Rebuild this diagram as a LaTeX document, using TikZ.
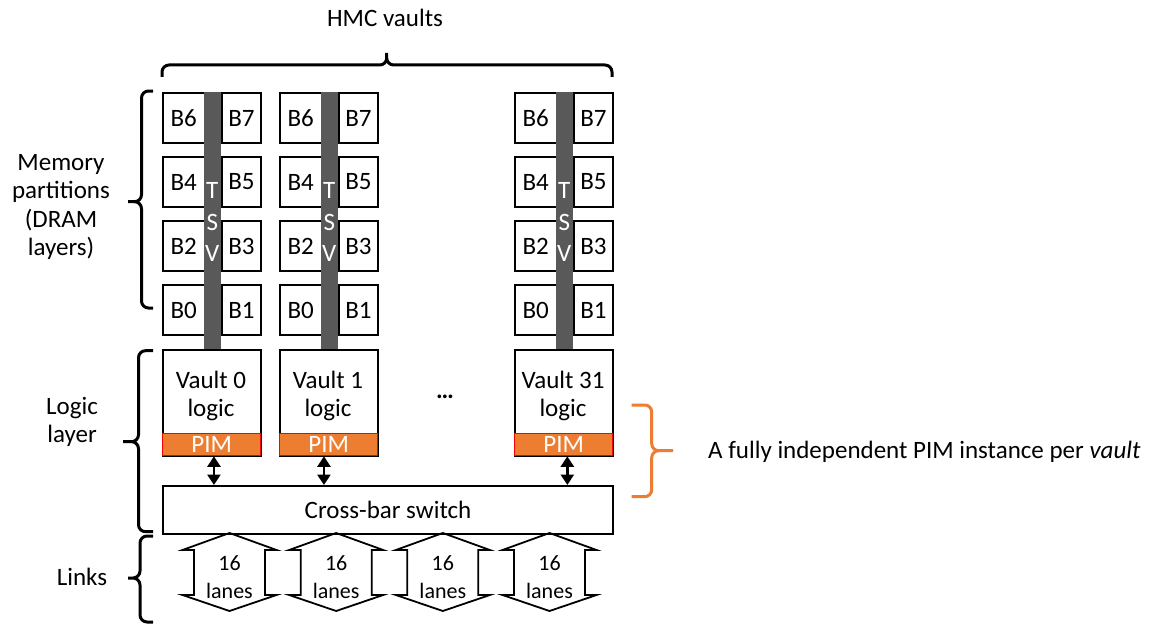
\documentclass[tikz,border=0pt]{standalone}
\usepackage{fontspec}
\setmainfont{Carlito}
\usetikzlibrary{arrows.meta}
\definecolor{tsvgray}{HTML}{595959}
\definecolor{pimorange}{HTML}{ED7D31}
\definecolor{pimred}{HTML}{FF0000}

\begin{document}
\begin{tikzpicture}[x=1pt,y=-1pt,
  every node/.style={font=\fontsize{25}{28.5}\selectfont, inner sep=0pt, text=black},
  bank/.style={draw, line width=2pt, minimum height=50pt, anchor=north west},
  logicbox/.style={draw, line width=2pt, minimum width=98pt, minimum height=106pt, anchor=north west},
  pimbox/.style={draw=pimred, fill=pimorange, line width=1.3pt, minimum width=98pt, minimum height=22pt, anchor=north west, text=white},
  tsvlabel/.style={text=white},
  dblarrow/.style={line width=2.5pt, arrows={Triangle[width=13pt,length=10.5pt]-Triangle[width=13pt,length=10.5pt]}},
  linkarrow/.style={draw, line width=1.8pt, line join=miter},
  lanetext/.style={align=center, font=\fontsize{22}{28}\selectfont},
  bracestyle/.style={line width=3pt, rounded corners=7pt},
]
\useasboundingbox (0,0) rectangle (1151,626);

% vault stacks: bank pairs, TSV column, vault logic and PIM unit
\foreach \v/\L in {0/162,1/279,31/514} {
  \foreach \a/\b/\t in {6/7/92,4/5/156,2/3/220,0/1/284} {
    \node[bank, minimum width=41.5pt] (bank\v-\a) at (\L,\t) {B\a};
    \node[bank, minimum width=39pt] (bank\v-\b) at (\L+59,\t) {B\b};
  }
  \fill[tsvgray] (\L+41.5,92) rectangle (\L+59,349);
  \node[tsvlabel] (tsvT\v) at (\L+50.25,190) {T};
  \node[tsvlabel] (tsvS\v) at (\L+50.25,222) {S};
  \node[tsvlabel] (tsvV\v) at (\L+50.25,253) {V};
  \node[logicbox] (vlog\v) at (\L,349) {};
  \node[align=center] (vtxt\v) at (\L+49,396) {Vault \v\\logic};
  \node[pimbox] (pim\v) at (\L,433) {PIM};
}

\node (dots) at (445,396.5) {\textbf{…}};

% crossbar switch
\node[draw, line width=2pt, minimum width=450pt, minimum height=48pt, anchor=north west] (xbar) at (162,485) {Cross-bar switch};

% PIM to crossbar links
\draw[dblarrow] ([xshift=2.3pt]pim0.south) -- ([xshift=2.3pt]pim0.south |- xbar.north);
\draw[dblarrow] ([xshift=-4.7pt]pim1.south) -- ([xshift=-4.7pt]pim1.south |- xbar.north);
\draw[dblarrow] ([xshift=3.7pt]pim31.south) -- ([xshift=3.7pt]pim31.south |- xbar.north);

% external links: 16 lanes each
\foreach \i in {0,1,2,3} {
  \pgfmathsetmacro{\cx}{229.5+106.67*\i}
  \draw[linkarrow] (\cx,533) -- (\cx+47,550) -- (\cx+35.5,550) -- (\cx+35.5,595) -- (\cx+47,595)
    -- (\cx,611) -- (\cx-47,595) -- (\cx-35.5,595) -- (\cx-35.5,550) -- (\cx-47,550) -- cycle;
  \node[lanetext] (lane\i) at (\cx,577.5) {16\\lanes};
}

% braces
\draw[bracestyle] (162,77) -- (162,65) -- (386.7,65) -- (386.7,53)
                  (386.7,53) -- (386.7,65) -- (612,65) -- (612,77);
\draw[bracestyle] (153,91) -- (141.5,91) -- (141.5,201.7) -- (128,201.7)
                  (128,201.7) -- (141.5,201.7) -- (141.5,308) -- (153,308);
\draw[bracestyle] (153,350.7) -- (138.5,350.7) -- (138.5,441.7) -- (123,441.7)
                  (123,441.7) -- (138.5,441.7) -- (138.5,531.7) -- (153,531.7);
\draw[bracestyle] (153,536) -- (140,536) -- (140,578) -- (128,578)
                  (128,578) -- (140,578) -- (140,622) -- (153,622);
\draw[bracestyle, pimorange] (631.7,405) -- (651.7,405) -- (651.7,450.7) -- (673,450.7)
                  (673,450.7) -- (651.7,450.7) -- (651.7,496.7) -- (631.7,496.7);

% labels
\node (hmc) at (385,18) {HMC vaults};
\node[align=center] (mem) at (61,207) {Memory\\partitions\\(DRAM\\layers)};
\node[align=center] (logl) at (72,422) {Logic\\layer};
\node (links) at (82,577) {Links};
\node[anchor=west] (pimnote) at (708,452) {A fully independent PIM instance per \textit{vault}};
\end{tikzpicture}
\end{document}
